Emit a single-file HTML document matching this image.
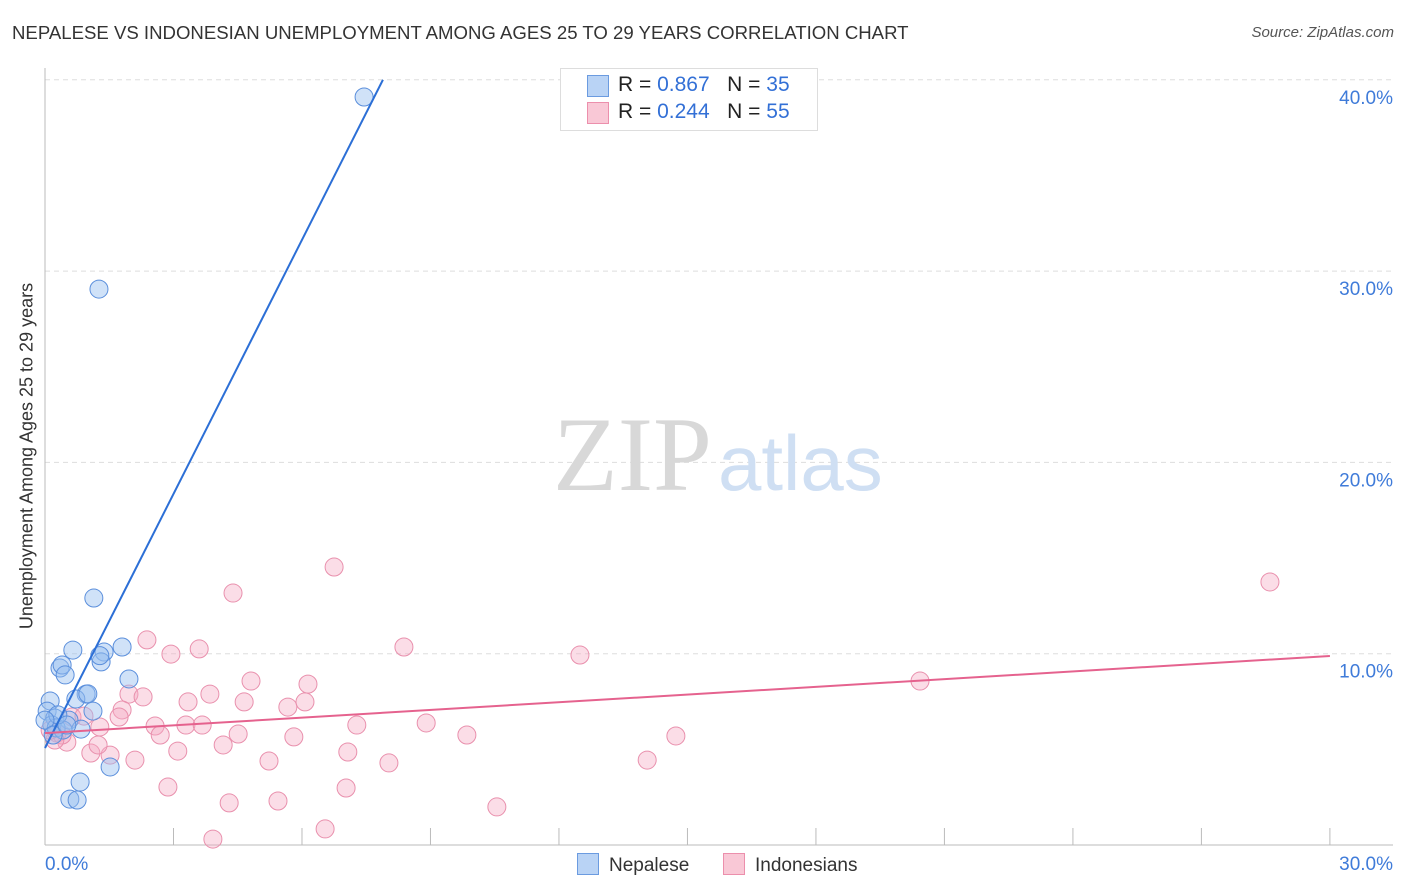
<!DOCTYPE html>
<html><head><meta charset="utf-8"><style>
body{margin:0;background:#fff;font-family:"Liberation Sans",sans-serif;}
#wrap{position:relative;width:1406px;height:892px;overflow:hidden;}
.t{position:absolute;white-space:nowrap;}
</style></head><body>
<div id="wrap">
<div class="t" style="left:12px;top:22px;font-size:18.6px;color:#333;">NEPALESE VS INDONESIAN UNEMPLOYMENT AMONG AGES 25 TO 29 YEARS CORRELATION CHART</div>
<div class="t" style="right:12px;top:24px;font-size:15px;color:#555;font-style:italic;">Source: ZipAtlas.com</div>
<div class="t" style="left:27px;top:456px;font-size:18px;color:#333;transform:translate(-50%,-50%) rotate(-90deg);">Unemployment Among Ages 25 to 29 years</div>
<svg id="svg" width="1406" height="892" style="position:absolute;left:0;top:0"></svg>
<div class="t" style="left:560px;top:68px;width:256px;height:61px;border:1px solid #ddd;background:#fff;"></div>
<div class="t" style="left:587px;top:75px;width:20px;height:20px;background:#b9d3f5;border:1px solid #6b9be0;"></div>
<div class="t" style="left:618px;top:73px;font-size:21px;color:#222;">R = <span style="color:#3370d6">0.867</span>&nbsp;&nbsp;&nbsp;N = <span style="color:#3370d6">35</span></div>
<div class="t" style="left:587px;top:102px;width:20px;height:20px;background:#f9c8d6;border:1px solid #ec8fac;"></div>
<div class="t" style="left:618px;top:100px;font-size:21px;color:#222;">R = <span style="color:#3370d6">0.244</span>&nbsp;&nbsp;&nbsp;N = <span style="color:#3370d6">55</span></div>
<div class="t" style="left:577px;top:853px;font-size:19px;color:#333;"><span style="display:inline-block;width:20px;height:20px;background:#b9d3f5;border:1px solid #6b9be0;vertical-align:-4px;margin-right:10px"></span>Nepalese</div>
<div class="t" style="left:723px;top:853px;font-size:19px;color:#333;"><span style="display:inline-block;width:20px;height:20px;background:#f9c8d6;border:1px solid #ec8fac;vertical-align:-4px;margin-right:10px"></span>Indonesians</div>
</div>
<script>
const xTicks=[0,30];
const yTicks=[10,20,30,40];
const blueX=[7.45,1.26,1.14,1.80,0.65,1.38,1.31,1.96,0.35,0.40,0.47,0.96,0.72,0.12,0.05,1.12,0.23,0.56,0.84,0.16,1.52,0.82,0.58,0.75,0.26,0.42,0.30,1.0,0,0.19,0.51,1.28];
const blueY=[39.1,29.06,12.91,10.35,10.19,10.09,9.57,8.68,9.25,9.41,8.89,7.89,7.63,7.53,7.0,7.0,6.64,6.53,6.06,6.27,4.08,3.29,2.40,2.35,6.12,6.01,6.80,7.9,6.53,5.75,6.27,9.9];
const pinkX=[6.75,4.39,28.6,2.38,8.38,2.94,3.6,12.49,4.81,6.14,1.96,2.29,3.85,3.34,4.65,6.07,5.67,20.43,1.8,1.73,2.57,3.29,3.67,7.28,8.9,2.69,4.51,5.81,9.85,14.73,4.16,3.1,1.07,7.07,1.52,2.1,5.23,8.03,14.06,2.87,7.03,4.3,5.44,10.55,6.54,3.92,0.51,0.63,0.91,1.28,1.24,0.28,0.4,0.23,0.12];
const pinkY=[14.53,13.17,13.75,10.72,10.35,9.98,10.25,9.93,8.57,8.41,7.89,7.74,7.89,7.48,7.48,7.48,7.21,8.57,7.06,6.69,6.22,6.27,6.27,6.27,6.38,5.75,5.8,5.65,5.75,5.7,5.23,4.91,4.81,4.86,4.7,4.44,4.39,4.29,4.44,3.03,2.98,2.2,2.3,1.99,0.84,0.31,5.38,6.69,6.74,6.17,5.23,5.85,5.75,5.49,6.0];
const blueLine=[[0,5.07],[7.89,40]];
const pinkLine=[[0,5.85],[30,9.88]];
const X=v=>45+v*42.83, Y=v=>845-v*19.13;
const s=document.getElementById('svg'),NS='http://www.w3.org/2000/svg';
function mk(t,a){const e=document.createElementNS(NS,t);for(const k in a)e.setAttribute(k,a[k]);s.appendChild(e);return e;}
for(const v of yTicks){
 const g=mk('line',{x1:45,x2:1393,y1:Y(v),y2:Y(v),stroke:'#ddd','stroke-dasharray':'5,4'});
 
 
 const t=mk('text',{x:1393,y:Y(v)+24,'text-anchor':'end','font-size':19,fill:'#3f7bd9','font-family':'Liberation Sans'});
 t.textContent=v.toFixed(1)+'%';
 
 
}
const ax=mk('line',{x1:45,x2:45,y1:68,y2:845,stroke:'#bbb'});


const bx=mk('line',{x1:45,x2:1393,y1:845,y2:845,stroke:'#bbb'});


for(let i=1;i<=10;i++){
 const tk=mk('line',{x1:X(i*3),x2:X(i*3),y1:828,y2:845,stroke:'#bbb'});
 
 
}
xTicks.forEach((v,i)=>{
 const t=mk('text',{x:i?1393:45,y:870,'text-anchor':i?'end':'start','font-size':19,fill:'#3f7bd9','font-family':'Liberation Sans'});
 t.textContent=v.toFixed(1)+'%';
 
 
});
const w1=mk('text',{x:553,y:490,'font-size':106,fill:'#d8d8d8','font-family':'Liberation Serif'});w1.textContent='ZIP';


const w2=mk('text',{x:718,y:490,'font-size':78,fill:'#cfdff3','font-family':'Liberation Sans'});w2.textContent='atlas';


pinkX.forEach((x,i)=>{
 const c=mk('circle',{cx:X(x),cy:Y(pinkY[i]),r:9,fill:'rgba(246,170,195,0.4)',stroke:'#e990ad','stroke-width':1});
 
 
});
blueX.forEach((x,i)=>{
 const c=mk('circle',{cx:X(x),cy:Y(blueY[i]),r:9,fill:'rgba(150,190,240,0.45)',stroke:'#5b8fdc','stroke-width':1});
 
 
});
const l1=mk('line',{x1:X(blueLine[0][0]),y1:Y(blueLine[0][1]),x2:X(blueLine[1][0]),y2:Y(blueLine[1][1]),stroke:'#2c6fd6','stroke-width':2});


const l2=mk('line',{x1:X(pinkLine[0][0]),y1:Y(pinkLine[0][1]),x2:X(pinkLine[1][0]),y2:Y(pinkLine[1][1]),stroke:'#e5628e','stroke-width':2});


</script>
</body></html>
